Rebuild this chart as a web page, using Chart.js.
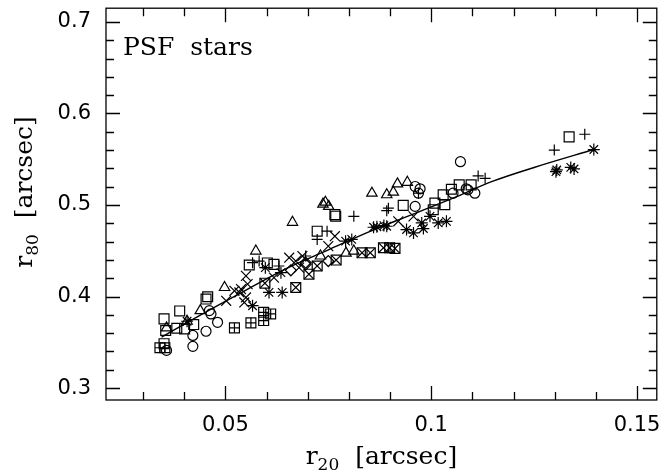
<!DOCTYPE html>
<html>
<head>
<meta charset="utf-8">
<script src="https://cdn.jsdelivr.net/npm/chart.js@4"></script>
<style>
  body { margin: 0; background: #fff; }
  canvas { display: block; }
</style>
</head>
<body>
<canvas id="graph" width="665" height="474"></canvas>
<script>
// r20 / r80 des étoiles PSF, une liste par type de symbole
const circles = [[0.0357,0.3412],[0.0421,0.3575],[0.0421,0.3456],[0.0453,0.3621],[0.0481,0.3719],[0.0465,0.381],[0.0461,0.3846],
  [0.1071,0.5473],[0.0961,0.5202],[0.0973,0.5177],[0.0961,0.4985],[0.1106,0.5129],[0.1085,0.5177],[0.1053,0.5129],[0.0969,0.5129],[0.1089,0.5166]];
const squares = [[0.0351,0.3756],[0.0389,0.3843],[0.0355,0.3629],[0.0382,0.3654],[0.0401,0.3647],[0.0423,0.3694],[0.0453,0.3973],[0.0457,0.3998],
  [0.0351,0.3485],[0.0558,0.4345],[0.0602,0.4367],[0.0618,0.4352],[0.0766,0.4895],[0.0768,0.4878],[0.0723,0.4714],[0.0932,0.4996],[0.1029,0.5112],
  [0.1049,0.5172],[0.1068,0.522],[0.1097,0.522],[0.1033,0.5003],[0.1009,0.5021],[0.1005,0.4949],[0.1335,0.5744]];
const boxedPlus = [[0.0341,0.3441],[0.0353,0.3441],[0.0522,0.3658],[0.0562,0.3713],[0.0593,0.3828],[0.0593,0.3738],[0.061,0.381]];
const triangles = [[0.0357,0.3658],[0.0407,0.373],[0.0439,0.3846],[0.0498,0.4099],[0.0574,0.4497],[0.0731,0.4443],[0.0793,0.4475],[0.0812,0.4497],
  [0.0737,0.501],[0.0743,0.5031],[0.0751,0.4985],[0.0663,0.4811],[0.0856,0.5129],[0.0892,0.5112],[0.0908,0.514],[0.0918,0.5231],[0.0942,0.5248]];
const pluses = [[0.0566,0.437],[0.0582,0.4388],[0.063,0.4334],[0.0695,0.4443],[0.0747,0.4714],[0.0723,0.4624],[0.0812,0.4876],[0.0896,0.4966],
  [0.0892,0.4938],[0.0969,0.5129],[0.1114,0.5318],[0.1131,0.5292],[0.1373,0.5773],[0.1299,0.56]];
const crosses = [[0.0502,0.3954],[0.0522,0.4063],[0.0538,0.4081],[0.0546,0.3936],[0.055,0.4226],[0.0554,0.4136],[0.0618,0.4207],[0.0655,0.4424],
  [0.0671,0.4388],[0.0679,0.4316],[0.0687,0.4443],[0.0766,0.4659],[0.075,0.4551],[0.092,0.4822],[0.0957,0.4876],[0.0534,0.4045],[0.055,0.399]];
const stars = [[0.0566,0.39],[0.0606,0.4045],[0.0638,0.4045],[0.0597,0.4316],[0.0635,0.4261],[0.0792,0.4605],[0.0807,0.4624],[0.086,0.4757],
  [0.0868,0.4762],[0.0885,0.4775],[0.0892,0.4768],[0.094,0.4732],[0.0957,0.4695],[0.0977,0.4804],[0.0981,0.4743],[0.0997,0.4876],[0.1017,0.4804],
  [0.1037,0.4822],[0.1395,0.5606],[0.1305,0.5383],[0.1339,0.5411],[0.1347,0.5394],[0.1303,0.5364],[0.0407,0.373]];
const boxedX = [[0.0671,0.4099],[0.0596,0.4146],[0.0703,0.4244],[0.0723,0.4334],[0.0769,0.4399],[0.0832,0.4478],[0.0852,0.4478],[0.0884,0.4533],
  [0.0899,0.4533],[0.0912,0.4526]];
const diamonds = [[0.075,0.4388],[0.0695,0.437],[0.0659,0.4287],[0.0695,0.4352]];

// courbe d'ajustement
const fitX = [0.0345, 0.045, 0.055, 0.065, 0.075, 0.085, 0.095, 0.105, 0.115, 0.125, 0.1395];
const fitY = [0.3556, 0.3825, 0.407, 0.431, 0.451, 0.471, 0.489, 0.507, 0.526, 0.541, 0.5606];

// axes
const xRange = [0.021, 0.1548];
const yRange = [0.287, 0.715];
const xMajor = [0.05, 0.1, 0.15];
const xTickLabels = ['0.05', '0.1', '0.15'];
const xMinor = [0.03, 0.04, 0.05, 0.06, 0.07, 0.08, 0.09, 0.1, 0.11, 0.12, 0.13, 0.14, 0.15];
const yMajor = [0.3, 0.4, 0.5, 0.6, 0.7];
const yTickLabels = ['0.3', '0.4', '0.5', '0.6', '0.7'];
const yMinor = [0.3, 0.32, 0.34, 0.36, 0.38, 0.4, 0.42, 0.44, 0.46, 0.48, 0.5, 0.52, 0.54, 0.56, 0.58, 0.6, 0.62, 0.64, 0.66, 0.68, 0.7];

const toPoints = list => list.map(p => ({x: p[0], y: p[1]}));

function markers(list, style, radius) {
  return {
    data: toPoints(list),
    pointStyle: style,
    pointRadius: radius,
    pointBorderColor: '#000',
    pointBackgroundColor: 'rgba(0,0,0,0)',
    pointBorderWidth: 1.2,
    showLine: false
  };
}

const isMajor = (v, majors) => majors.some(m => Math.abs(m - v) < 1e-9);

// cadre avec graduations intérieures sur les 4 côtés + textes
const frame = {
  id: 'frame',
  afterDraw(chart) {
    const {ctx, chartArea: a} = chart;
    const sx = chart.scales.x, sy = chart.scales.y;
    ctx.save();
    ctx.strokeStyle = '#000';
    ctx.lineWidth = 1.3;
    ctx.strokeRect(a.left, a.top, a.right - a.left, a.bottom - a.top);
    ctx.beginPath();
    xMinor.forEach(v => {
      const px = Math.round(sx.getPixelForValue(v)) + 0.5;
      const len = isMajor(v, xMajor) ? 14 : 8;
      ctx.moveTo(px, a.bottom); ctx.lineTo(px, a.bottom - len);
      ctx.moveTo(px, a.top); ctx.lineTo(px, a.top + len);
    });
    yMinor.forEach(v => {
      const py = Math.round(sy.getPixelForValue(v)) + 0.5;
      const len = isMajor(v, yMajor) ? 14 : 8;
      ctx.moveTo(a.left, py); ctx.lineTo(a.left + len, py);
      ctx.moveTo(a.right, py); ctx.lineTo(a.right - len, py);
    });
    ctx.stroke();

    ctx.fillStyle = '#000';
    ctx.textBaseline = 'alphabetic';
    ctx.textAlign = 'left';
    ctx.font = '25px "DejaVu Serif"';
    ctx.fillText('PSF  stars', 123, 55);

    // titre x : r20 [arcsec]
    const drawTitle = (sub, cx, cy) => {
      ctx.font = '25px "DejaVu Serif"';
      const w1 = ctx.measureText('r').width;
      const w3 = ctx.measureText('  [arcsec]').width;
      ctx.font = '17px "DejaVu Serif"';
      const w2 = ctx.measureText(sub).width;
      let x0 = cx - (w1 + w2 + w3) / 2;
      ctx.font = '25px "DejaVu Serif"';
      ctx.fillText('r', x0, cy);
      ctx.font = '17px "DejaVu Serif"';
      ctx.fillText(sub, x0 + w1, cy + 6);
      ctx.font = '25px "DejaVu Serif"';
      ctx.fillText('  [arcsec]', x0 + w1 + w2, cy);
    };
    drawTitle('20', (a.left + a.right) / 2, 464);
    ctx.translate(32, 192);
    ctx.rotate(-Math.PI / 2);
    drawTitle('80', 0, 0);
    ctx.restore();
  }
};

const ctx = document.getElementById('graph').getContext('2d');
new Chart(ctx, {
  type: 'scatter',
  data: {
    datasets: [
      {
        type: 'line',
        data: fitX.map((v, i) => ({x: v, y: fitY[i]})),
        borderColor: '#000',
        borderWidth: 1.4,
        pointRadius: 0,
        cubicInterpolationMode: 'monotone',
        fill: false
      },
      markers(circles, 'circle', 5),
      markers(squares, 'rect', 7),
      markers(boxedPlus, 'rect', 7),
      markers(boxedPlus, 'cross', 5),
      markers(triangles, 'triangle', 6),
      markers(pluses, 'cross', 5.5),
      markers(crosses, 'crossRot', 7),
      markers(stars, 'star', 6),
      markers(boxedX, 'rect', 7),
      markers(boxedX, 'crossRot', 7),
      markers(diamonds, 'rectRot', 5.5)
    ]
  },
  options: {
    responsive: false,
    animation: false,
    layout: { padding: { top: 5, right: 5, left: 0, bottom: 0 } },
    plugins: { legend: { display: false }, tooltip: { enabled: false } },
    scales: {
      x: {
        type: 'linear',
        min: xRange[0],
        max: xRange[1],
        grid: { display: false, drawTicks: false },
        border: { display: false },
        afterBuildTicks: scale => { scale.ticks = xMajor.map(v => ({value: v})); },
        afterFit: scale => { scale.height = 74; scale.paddingLeft = 0; scale.paddingRight = 0; },
        ticks: {
          padding: 13,
          color: '#000',
          font: { family: 'DejaVu Sans', size: 21 },
          maxRotation: 0,
          callback: (v, i) => xTickLabels[i]
        }
      },
      y: {
        type: 'linear',
        min: yRange[0],
        max: yRange[1],
        grid: { display: false, drawTicks: false },
        border: { display: false },
        afterBuildTicks: scale => { scale.ticks = yMajor.map(v => ({value: v})); },
        afterFit: scale => { scale.width = 106; scale.paddingTop = 0; scale.paddingBottom = 0; },
        ticks: {
          padding: 15,
          color: '#000',
          font: { family: 'DejaVu Sans', size: 21 },
          callback: (v, i) => yTickLabels[i]
        }
      }
    }
  },
  plugins: [frame]
});
</script>
</body>
</html>
